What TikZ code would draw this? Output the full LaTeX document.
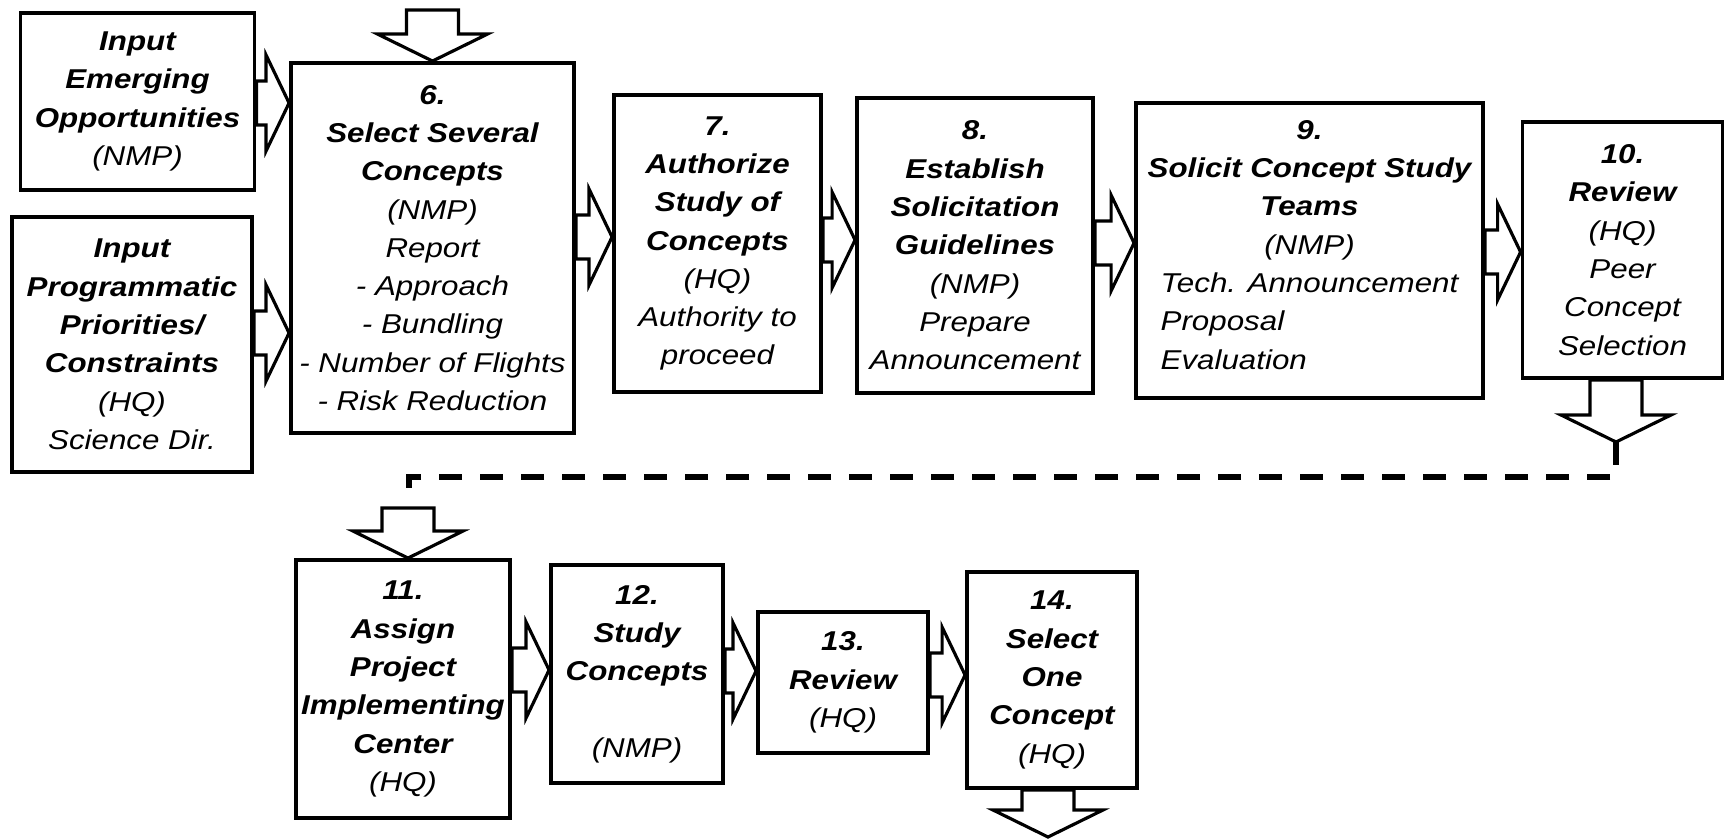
\documentclass[tikz,border=0pt]{standalone}
\usepackage{fontspec}
\setmainfont{Liberation Sans}[FakeStretch=1.15]
\usetikzlibrary{calc}

\tikzset{
  stepbox/.style={draw, line width=2.2pt, align=center, inner sep=0pt,
    font=\fontsize{15.5}{21.8}\selectfont\itshape},
  sz/.style 2 args={minimum width=#1*0.02cm, minimum height=#2*0.02cm},
  blockline/.style={draw, line width=1.8pt},
  linkline/.style={line width=3pt, dash pattern=on 0.46cm off 0.36cm}
}

% hollow block arrow between two boxes, #3 = height of its axis
\newcommand{\rightblock}[3]{%
  \draw[blockline] ($(#1.east |- 0,#3)+(0,-22)$) -- ($(#2.west |- 0,#3)+(-23,-22)$) -- ++(0,-26)
    -- (#2.west |- 0,#3) -- ($(#2.west |- 0,#3)+(-23,48)$) -- ++(0,-26)
    -- ($(#1.east |- 0,#3)+(0,22)$) -- cycle;}
% hollow block arrow pointing down, #1 = top of shaft, #2 = tip
\newcommand{\downblock}[2]{%
  \draw[blockline] ($(#1)+(-26,0)$) -- ($(#2)+(-26,-27)$) -- ($(#2)+(-55,-27)$) -- (#2)
    -- ($(#2)+(55,-27)$) -- ($(#2)+(26,-27)$) -- ($(#1)+(26,0)$) -- cycle;}

\begin{document}
\begin{tikzpicture}[x=0.02cm, y=-0.02cm]
\useasboundingbox (0,0) rectangle (1726,838);

% first row
\node[stepbox, sz={234}{177}] (inA) at (137.5,101.5)
  {\textbf{Input}\\ \textbf{Emerging}\\ \textbf{Opportunities}\\ (NMP)};
\node[stepbox, sz={240}{255}] (inB) at (132,344.5)
  {\textbf{Input}\\ \textbf{Programmatic}\\ \textbf{Priorities/}\\ \textbf{Constraints}\\ (HQ)\\ Science Dir.};
\node[stepbox, sz={283}{370}] (s6) at (432.5,248)
  {\textbf{6.}\\ \textbf{Select Several}\\ \textbf{Concepts}\\ (NMP)\\ Report\\ - Approach\\ - Bundling\\ - Number of Flights\\ - Risk Reduction};
\node[stepbox, sz={207}{297}] (s7) at (717.5,243.5)
  {\textbf{7.}\\ \textbf{Authorize}\\ \textbf{Study of}\\ \textbf{Concepts}\\ (HQ)\\ Authority to\\ proceed};
\node[stepbox, sz={236}{295}] (s8) at (975,245.5)
  {\textbf{8.}\\ \textbf{Establish}\\ \textbf{Solicitation}\\ \textbf{Guidelines}\\ (NMP)\\ Prepare\\ Announcement};
\node[stepbox, sz={347}{295}] (s9) at (1309.5,250.5)
  {\textbf{9.}\\ \textbf{Solicit Concept Study}\\ \textbf{Teams}\\ (NMP)\\
   \begin{tabular}[t]{@{}l@{}}Tech. Announcement\\ Proposal\\ Evaluation\end{tabular}};
\node[stepbox, sz={200}{256}] (s10) at (1622.5,250)
  {\textbf{10.}\\ \textbf{Review}\\ (HQ)\\ Peer\\ Concept\\ Selection};

% second row
\node[stepbox, sz={214}{258}] (s11) at (403,689)
  {\textbf{11.}\\ \textbf{Assign}\\ \textbf{Project}\\ \textbf{Implementing}\\ \textbf{Center}\\ (HQ)};
\node[stepbox, sz={172}{218}] (s12) at (637,674)
  {\textbf{12.}\\ \textbf{Study}\\ \textbf{Concepts}\\[21.8pt] (NMP)};
\node[stepbox, sz={170}{141}] (s13) at (843,682.5)
  {\textbf{13.}\\ \textbf{Review}\\ (HQ)};
\node[stepbox, sz={170}{216}] (s14) at (1052,680)
  {\textbf{14.}\\ \textbf{Select}\\ \textbf{One}\\ \textbf{Concept}\\ (HQ)};

% free ends
\coordinate (top6) at (432.5,10);
\coordinate (tip10) at (1616,442);
\coordinate (end11) at (409,490);
\coordinate (top11) at (408,508);
\coordinate (tip14) at (1048,837);

% arrows
\downblock{top6}{s6.north}
\rightblock{inA}{s6}{103}
\rightblock{inB}{s6}{333}
\rightblock{s6}{s7}{237}
\rightblock{s7}{s8}{240}
\rightblock{s8}{s9}{243}
\rightblock{s9}{s10}{252}
\downblock{tip10 |- s10.south}{tip10}
\draw[linkline] (tip10) -- (tip10 |- 0,477) -- (end11 |- 0,477) -- (end11);
\downblock{top11}{top11 |- s11.north}
\rightblock{s11}{s12}{670}
\rightblock{s12}{s13}{671}
\rightblock{s13}{s14}{675}
\downblock{tip14 |- s14.south}{tip14}
\end{tikzpicture}
\end{document}
